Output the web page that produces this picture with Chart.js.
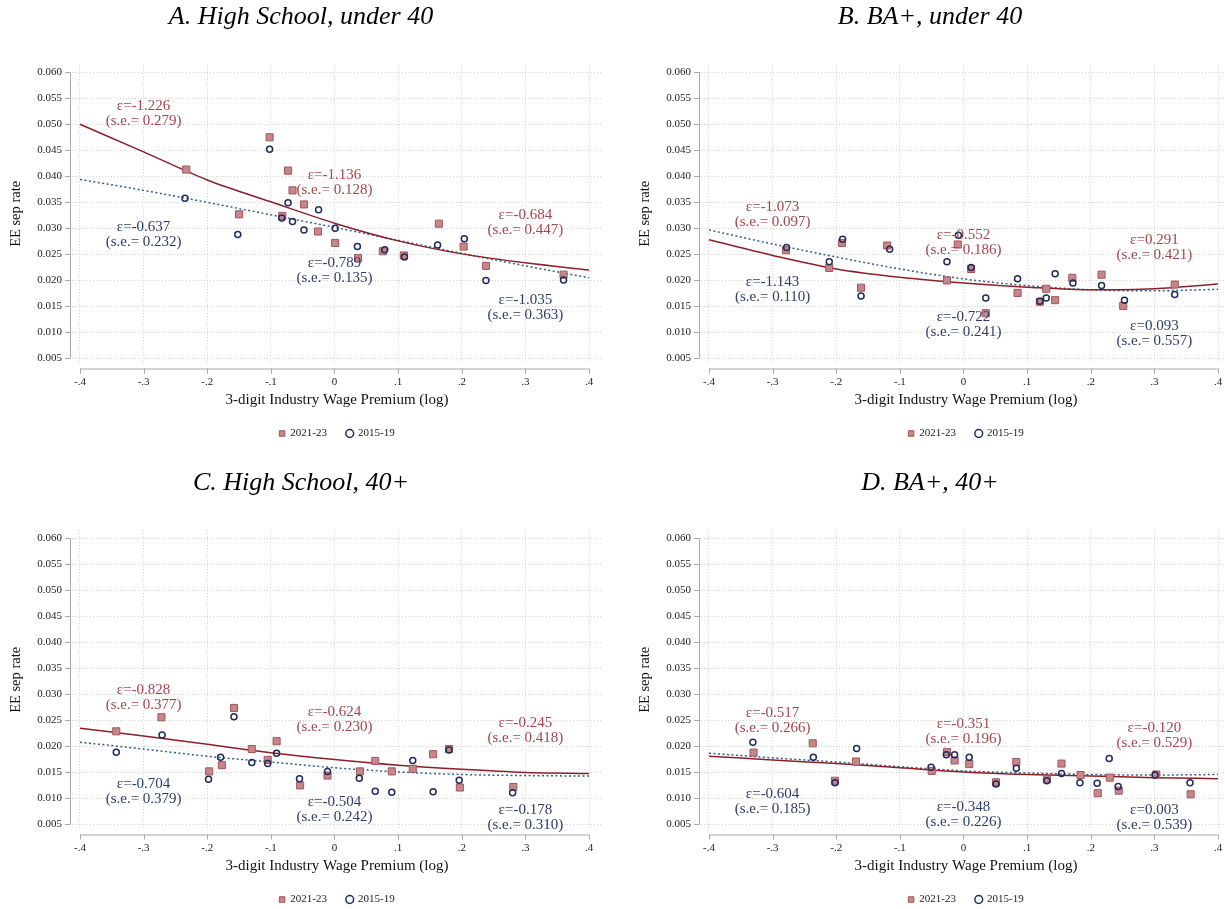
<!DOCTYPE html>
<html>
<head>
<meta charset="utf-8">
<script src="https://cdn.jsdelivr.net/npm/chart.js@4.4.1/dist/chart.umd.min.js"></script>
<style>
html, body { margin: 0; padding: 0; background: #fff; width: 1225px; height: 909px; overflow: hidden; }
.panel { position: absolute; width: 612px; height: 443px; }
</style>
</head>
<body>
<div class="panel" style="left:0;top:0"><canvas id="chartA"></canvas></div>
<div class="panel" style="left:629px;top:0"><canvas id="chartB"></canvas></div>
<div class="panel" style="left:0;top:466px"><canvas id="chartC"></canvas></div>
<div class="panel" style="left:629px;top:466px"><canvas id="chartD"></canvas></div>
<script>
/* ---------------------------------------------------------------------------------- */
/* data */
const xTicks = [-0.4, -0.3, -0.2, -0.1, 0, 0.1, 0.2, 0.3, 0.4];
const yTicks = [0.005, 0.010, 0.015, 0.020, 0.025, 0.030, 0.035, 0.040, 0.045, 0.050, 0.055, 0.060];
const fitX = [-0.4, -0.3, -0.2, -0.1, 0, 0.1, 0.2, 0.3, 0.4];
const labX = [-0.3, 0, 0.3];
const series = ['2021-23', '2015-19'];

// A. High School, under 40
const a23x = [-0.233, -0.150, -0.102, -0.073, -0.066, -0.082, -0.048, -0.026, 0.001, 0.037, 0.076, 0.109, 0.164, 0.203, 0.238, 0.360];
const a23y = [0.0413, 0.0327, 0.0475, 0.0411, 0.0373, 0.0324, 0.0346, 0.0294, 0.0272, 0.0243, 0.0256, 0.0248, 0.0309, 0.0265, 0.0228, 0.0211];
const a19x = [-0.235, -0.152, -0.102, -0.073, -0.083, -0.066, -0.048, -0.025, 0.001, 0.036, 0.079, 0.110, 0.162, 0.204, 0.238, 0.360];
const a19y = [0.0358, 0.0288, 0.0452, 0.0349, 0.0320, 0.0313, 0.0297, 0.0336, 0.0300, 0.0265, 0.0259, 0.0245, 0.0268, 0.0280, 0.0200, 0.0201];
const aFit23 = [0.0500, 0.0447, 0.0393, 0.0351, 0.0310, 0.0276, 0.0251, 0.0234, 0.0220];
const aFit19 = [0.0394, 0.0373, 0.0350, 0.0326, 0.0302, 0.0277, 0.0252, 0.0228, 0.0205];
const aEps23 = ['-1.226', '-1.136', '-0.684'];
const aSe23 = ['0.279', '0.128', '0.447'];
const aEps19 = ['-0.637', '-0.789', '-1.035'];
const aSe19 = ['0.232', '0.135', '0.363'];

// B. BA+, under 40
const b23x = [-0.279, -0.211, -0.191, -0.161, -0.120, -0.026, -0.009, 0.012, 0.035, 0.085, 0.120, 0.130, 0.144, 0.171, 0.217, 0.251, 0.332];
const b23y = [0.0258, 0.0224, 0.0272, 0.0186, 0.0267, 0.0200, 0.0269, 0.0222, 0.0137, 0.0176, 0.0159, 0.0184, 0.0162, 0.0205, 0.0211, 0.0151, 0.0192];
const b19x = [-0.278, -0.211, -0.190, -0.161, -0.116, -0.026, -0.008, 0.012, 0.035, 0.085, 0.120, 0.130, 0.144, 0.172, 0.217, 0.253, 0.332];
const b19y = [0.0263, 0.0236, 0.0279, 0.0170, 0.0260, 0.0236, 0.0287, 0.0225, 0.0166, 0.0203, 0.0160, 0.0166, 0.0213, 0.0195, 0.0190, 0.0162, 0.0173];
const bFit23 = [0.0278, 0.0248, 0.0222, 0.0206, 0.0195, 0.0187, 0.0182, 0.0184, 0.0193];
const bFit19 = [0.0297, 0.0270, 0.0245, 0.0222, 0.0203, 0.0190, 0.0182, 0.0180, 0.0183];
const bEps23 = ['-1.073', '-0.552', '0.291'];
const bSe23 = ['0.097', '0.186', '0.421'];
const bEps19 = ['-1.143', '-0.722', '0.093'];
const bSe19 = ['0.110', '0.241', '0.557'];

// C. High School, 40+
const c23x = [-0.343, -0.272, -0.197, -0.177, -0.158, -0.130, -0.105, -0.091, -0.054, -0.011, 0.040, 0.064, 0.090, 0.123, 0.155, 0.180, 0.197, 0.281];
const c23y = [0.0229, 0.0256, 0.0152, 0.0164, 0.0274, 0.0195, 0.0174, 0.0210, 0.0125, 0.0144, 0.0152, 0.0172, 0.0152, 0.0157, 0.0185, 0.0195, 0.0121, 0.0122];
const c19x = [-0.343, -0.271, -0.198, -0.179, -0.158, -0.130, -0.105, -0.091, -0.055, -0.011, 0.039, 0.064, 0.090, 0.123, 0.155, 0.180, 0.196, 0.280];
const c19y = [0.0189, 0.0222, 0.0137, 0.0179, 0.0257, 0.0169, 0.0167, 0.0187, 0.0138, 0.0152, 0.0139, 0.0114, 0.0112, 0.0173, 0.0113, 0.0193, 0.0135, 0.0111];
const cFit23 = [0.0235, 0.0220, 0.0204, 0.0188, 0.0175, 0.0164, 0.0156, 0.0150, 0.0148];
const cFit19 = [0.0208, 0.0195, 0.0181, 0.0170, 0.0159, 0.0151, 0.0146, 0.0144, 0.0143];
const cEps23 = ['-0.828', '-0.624', '-0.245'];
const cSe23 = ['0.377', '0.230', '0.418'];
const cEps19 = ['-0.704', '-0.504', '-0.178'];
const cSe19 = ['0.379', '0.242', '0.310'];

// D. BA+, 40+
const d23x = [-0.330, -0.237, -0.202, -0.169, -0.050, -0.026, -0.014, 0.009, 0.051, 0.083, 0.131, 0.154, 0.184, 0.211, 0.230, 0.244, 0.303, 0.357];
const d23y = [0.0188, 0.0206, 0.0134, 0.0171, 0.0153, 0.0189, 0.0173, 0.0166, 0.0131, 0.0170, 0.0137, 0.0167, 0.0145, 0.0110, 0.0140, 0.0115, 0.0146, 0.0108];
const d19x = [-0.331, -0.236, -0.202, -0.168, -0.051, -0.027, -0.014, 0.009, 0.051, 0.083, 0.131, 0.154, 0.183, 0.210, 0.229, 0.243, 0.301, 0.356];
const d19y = [0.0208, 0.0179, 0.0130, 0.0196, 0.0160, 0.0184, 0.0184, 0.0179, 0.0128, 0.0158, 0.0134, 0.0148, 0.0130, 0.0129, 0.0177, 0.0123, 0.0145, 0.0130];
const dFit23 = [0.0181, 0.0174, 0.0167, 0.0159, 0.0151, 0.0146, 0.0143, 0.0140, 0.0138];
const dFit19 = [0.0187, 0.0178, 0.0170, 0.0161, 0.0153, 0.0149, 0.0146, 0.0145, 0.0146];
const dEps23 = ['-0.517', '-0.351', '-0.120'];
const dSe23 = ['0.266', '0.196', '0.529'];
const dEps19 = ['-0.604', '-0.348', '0.003'];
const dSe19 = ['0.185', '0.226', '0.539'];

/* ---------------------------------------------------------------------------------- */
/* label placement (y of the two-line text block, in data units) */
const aLabY23 = [0.0521, 0.0388, 0.0311];
const aLabY19 = [0.0289, 0.0218, 0.0147];
const bLabY23 = [0.0327, 0.0272, 0.0263];
const bLabY19 = [0.0183, 0.0116, 0.0098];
const cLabY23 = [0.0294, 0.0251, 0.0230];
const cLabY19 = [0.0113, 0.0079, 0.0063];
const dLabY23 = [0.0250, 0.0229, 0.0220];
const dLabY19 = [0.0094, 0.0070, 0.0063];

/* ---------------------------------------------------------------------------------- */
const SERIF = '"Liberation Serif", "Times New Roman", serif';
const RED_FILL = '#c4878a';
const RED_EDGE = '#a5535a';
const RED_LINE = '#8e1f28';
const RED_TEXT = '#a4464c';
const NAVY = '#1f2c5c';
const BLUE_LINE = '#2f5f90';
const BLUE_TEXT = '#2e3c6c';
const AXIS = '#a9a9a9';

const toPoints = (xs, ys) => xs.map((v, i) => ({ x: v, y: ys[i] }));

// stata style axis lines: offset from the plot, spanning first to last tick
const axisLines = {
    id: 'axisLines',
    afterDraw(chart) {
        const { ctx, chartArea, scales } = chart;
        const xs = scales.x, ys = scales.y;
        const yLine = chartArea.bottom + 5;
        const xLine = chartArea.left - 2;
        ctx.save();
        ctx.strokeStyle = AXIS;
        ctx.lineWidth = 1;
        ctx.beginPath();
        ctx.moveTo(xs.getPixelForValue(xTicks[0]), yLine + 0.5);
        ctx.lineTo(xs.getPixelForValue(xTicks[xTicks.length - 1]), yLine + 0.5);
        xTicks.forEach(v => {
            const px = Math.round(xs.getPixelForValue(v)) + 0.5;
            ctx.moveTo(px, yLine);
            ctx.lineTo(px, yLine + 5);
        });
        ctx.moveTo(xLine + 0.5, ys.getPixelForValue(yTicks[0]));
        ctx.lineTo(xLine + 0.5, ys.getPixelForValue(yTicks[yTicks.length - 1]));
        yTicks.forEach(v => {
            const py = Math.round(ys.getPixelForValue(v)) + 0.5;
            ctx.moveTo(xLine, py);
            ctx.lineTo(xLine - 5, py);
        });
        ctx.stroke();
        ctx.restore();
    }
};

// elasticity text blocks
const epsLabels = {
    id: 'epsLabels',
    afterDatasetsDraw(chart, args, opts) {
        const { ctx, scales } = chart;
        ctx.save();
        ctx.font = '15px ' + SERIF;
        ctx.textAlign = 'center';
        ctx.textBaseline = 'middle';
        opts.groups.forEach(g => {
            ctx.fillStyle = g.color;
            labX.forEach((lx, i) => {
                const px = scales.x.getPixelForValue(lx);
                const py = scales.y.getPixelForValue(g.pos[i]);
                ctx.fillText('\u03b5=' + g.eps[i], px, py - 7.5);
                ctx.fillText('(s.e.= ' + g.se[i] + ')', px, py + 7.5);
            });
        });
        ctx.restore();
    }
};

function makePanel(id, title, sqX, sqY, ciX, ciY, fit23, fit19, eps23, se23, lab23, eps19, se19, lab19) {
    const ctx = document.getElementById(id).getContext('2d');
    return new Chart(ctx, {
        type: 'scatter',
        data: {
            datasets: [{
                label: series[0],
                data: toPoints(sqX, sqY),
                pointStyle: 'rect',
                pointRadius: 5,
                pointHoverRadius: 5,
                backgroundColor: RED_FILL,
                borderColor: RED_EDGE,
                borderWidth: 1,
                order: 2
            }, {
                label: series[1],
                data: toPoints(ciX, ciY),
                pointStyle: 'circle',
                pointRadius: 3,
                pointHoverRadius: 3,
                backgroundColor: 'rgba(255,255,255,0)',
                borderColor: NAVY,
                borderWidth: 1.5,
                order: 1
            }, {
                label: 'fit 2021-23',
                data: toPoints(fitX, fit23),
                showLine: true,
                pointRadius: 0,
                borderColor: RED_LINE,
                borderWidth: 1.5,
                cubicInterpolationMode: 'monotone',
                order: 3
            }, {
                label: 'fit 2015-19',
                data: toPoints(fitX, fit19),
                showLine: true,
                pointRadius: 0,
                borderColor: BLUE_LINE,
                borderWidth: 1.5,
                borderDash: [2, 2.5],
                cubicInterpolationMode: 'monotone',
                order: 3
            }]
        },
        options: {
            responsive: true,
            maintainAspectRatio: false,
            animation: false,
            layout: { padding: { right: 10, bottom: -6 } },
            scales: {
                x: {
                    type: 'linear',
                    min: -0.41257,
                    max: 0.42043,
                    afterFit: s => { s.height = 61; },
                    afterBuildTicks: s => { s.ticks = xTicks.map(v => ({ value: v })); },
                    ticks: {
                        padding: 12,
                        color: '#222',
                        font: { family: SERIF, size: 11 },
                        callback: v => v === 0 ? '0' : (v < 0 ? '-' : '') + '.' + Math.round(Math.abs(v) * 10)
                    },
                    grid: { color: '#d2d2d2', lineWidth: 1, drawTicks: false },
                    border: { display: false, dash: [1, 2] },
                    title: {
                        display: true,
                        text: '3-digit Industry Wage Premium (log)',
                        color: '#111',
                        font: { family: SERIF, size: 15 },
                        padding: { top: 0, bottom: 15 }
                    }
                },
                y: {
                    type: 'linear',
                    min: 0.004035,
                    max: 0.061544,
                    afterFit: s => { s.width = 72; },
                    afterBuildTicks: s => { s.ticks = yTicks.map(v => ({ value: v })); },
                    ticks: {
                        padding: 10,
                        color: '#222',
                        font: { family: SERIF, size: 11 },
                        callback: v => v.toFixed(3)
                    },
                    grid: { color: '#d2d2d2', lineWidth: 1, drawTicks: false },
                    border: { display: false, dash: [1, 2] },
                    title: {
                        display: true,
                        text: 'EE sep rate',
                        color: '#111',
                        font: { family: SERIF, size: 14.5 },
                        padding: { top: 7, bottom: 0 }
                    }
                }
            },
            plugins: {
                title: {
                    display: true,
                    text: title,
                    color: '#000',
                    font: { family: SERIF, size: 26, style: 'italic', weight: 'normal' },
                    padding: { top: 2, bottom: 31 }
                },
                legend: {
                    position: 'bottom',
                    fullSize: false,
                    labels: {
                        usePointStyle: true,
                        boxHeight: 5.5,
                        boxWidth: 5.5,
                        padding: 3.5,
                        color: '#222',
                        font: { family: SERIF, size: 11 },
                        filter: item => item.datasetIndex < 2,
                        sort: (a, b) => a.datasetIndex - b.datasetIndex,
                        generateLabels: chart => {
                            const items = Chart.defaults.plugins.legend.labels.generateLabels(chart);
                            // wider gap after the first entry, like the original legend
                            items.forEach(it => {
                                if (it.datasetIndex === 0) it.text = it.text + '\u00a0\u00a0\u00a0\u00a0\u00a0\u00a0';
                            });
                            return items;
                        }
                    }
                },
                tooltip: { enabled: false },
                epsLabels: {
                    groups: [
                        { color: RED_TEXT, eps: eps23, se: se23, pos: lab23 },
                        { color: BLUE_TEXT, eps: eps19, se: se19, pos: lab19 }
                    ]
                }
            }
        },
        plugins: [axisLines, epsLabels]
    });
}

makePanel('chartA', 'A. High School, under 40', a23x, a23y, a19x, a19y, aFit23, aFit19, aEps23, aSe23, aLabY23, aEps19, aSe19, aLabY19);
makePanel('chartB', 'B. BA+, under 40', b23x, b23y, b19x, b19y, bFit23, bFit19, bEps23, bSe23, bLabY23, bEps19, bSe19, bLabY19);
makePanel('chartC', 'C. High School, 40+', c23x, c23y, c19x, c19y, cFit23, cFit19, cEps23, cSe23, cLabY23, cEps19, cSe19, cLabY19);
makePanel('chartD', 'D. BA+, 40+', d23x, d23y, d19x, d19y, dFit23, dFit19, dEps23, dSe23, dLabY23, dEps19, dSe19, dLabY19);
</script>
</body>
</html>
